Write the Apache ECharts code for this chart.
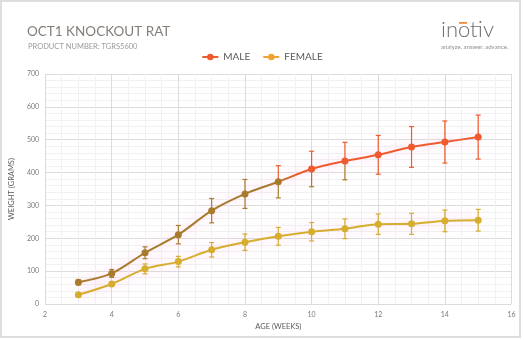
<!DOCTYPE html>
<html>
<head>
<meta charset="utf-8">
<script src="https://cdn.jsdelivr.net/npm/echarts@6/dist/echarts.min.js"></script>
<style>
  html, body { margin: 0; padding: 0; background: #fff; }
  #chart { width: 524px; height: 340px; }
</style>
</head>
<body>
<div id="chart"></div>
<script>
// Body weight by age, mean ± SD (grams)
const weeks      = [3, 4, 5, 6, 7, 8, 9, 10, 11, 12, 13, 14, 15];
const maleMean   = [66, 93, 156, 211, 284, 335, 372, 411, 435, 454, 478, 493, 508];
const maleSD     = [8, 12, 18, 28, 37, 44, 49, 54, 57, 59, 62, 64, 67];
const femaleMean = [28, 61, 107, 129, 165, 188, 206, 220, 229, 243, 244, 253, 255];
const femaleSD   = [5, 6, 15, 16, 22, 25, 27, 28, 30, 31, 32, 33, 33];
const xTicks     = [2, 4, 6, 8, 10, 12, 14, 16];
const yTicks     = [0, 100, 200, 300, 400, 500, 600, 700];

const RED = '#ef5a2e';
const BROWN = '#a77b2b';
const GOLD = '#d6ad2c';
const HAZE = 'rgba(255,130,225,0.55)';
const SHIFT_WEEK = 9;   // male trace switches from brown to red after this week

const chart = echarts.init(document.getElementById('chart'), null, { renderer: 'canvas' });

function errorSeries(name, means, sds, colorFor) {
  return {
    type: 'custom',
    name: name,
    coordinateSystem: 'cartesian2d',
    z: 3,
    silent: true,
    data: weeks.map((w, i) => [w, means[i] - sds[i], means[i] + sds[i], means[i]]),
    renderItem: function (params, api) {
      const w = api.value(0);
      const lo = api.coord([w, api.value(1)]);
      const hi = api.coord([w, api.value(2)]);
      const mid = api.coord([w, api.value(3)]);
      const c = colorFor(w);
      const cap = 2.5;
      const s = (col) => ({ stroke: col, lineWidth: 1.2 });
      return {
        type: 'group',
        children: [
          { type: 'line', shape: { x1: hi[0], y1: hi[1], x2: mid[0], y2: mid[1] }, style: s(c.up) },
          { type: 'line', shape: { x1: mid[0], y1: mid[1], x2: lo[0], y2: lo[1] }, style: s(c.down) },
          { type: 'line', shape: { x1: hi[0] - cap, y1: hi[1], x2: hi[0] + cap, y2: hi[1] }, style: s(c.up) },
          { type: 'line', shape: { x1: lo[0] - cap, y1: lo[1], x2: lo[0] + cap, y2: lo[1] }, style: s(c.down) }
        ]
      };
    }
  };
}

const option = {
  animation: false,
  backgroundColor: '#fff',
  title: [
    { text: 'OCT1 KNOCKOUT RAT', left: 22, top: 20,
      textStyle: { fontFamily: 'Lato', fontSize: 13.5, fontWeight: 'normal', color: '#857d78' } },
    { text: 'PRODUCT NUMBER: TGRS5600', left: 23, top: 38,
      textStyle: { fontFamily: 'Lato', fontSize: 7.5, fontWeight: 'normal', color: '#9a9a9a' } }
  ],
  legend: {
    top: 47, left: 'center', itemWidth: 16, itemHeight: 8, itemGap: 12,
    textStyle: { fontFamily: 'Lato', fontSize: 10, color: '#595959' },
    data: [
      { name: 'MALE', itemStyle: { color: RED }, lineStyle: { color: RED } },
      { name: 'FEMALE', itemStyle: { color: '#f2a232' }, lineStyle: { color: '#f2a232' } }
    ]
  },
  grid: { left: 39, right: 12.5, top: 74, bottom: 36 },
  xAxis: {
    type: 'value', min: xTicks[0], max: xTicks[xTicks.length - 1], interval: 2,
    name: 'AGE (WEEKS)', nameLocation: 'middle', nameGap: 18,
    nameTextStyle: { fontFamily: 'Lato', fontSize: 7.5, color: '#595959' },
    axisLine: { show: false }, axisTick: { show: false },
    axisLabel: { fontFamily: 'Lato', fontSize: 7, color: '#7a7a7a', margin: 7 },
    splitLine: { show: true, lineStyle: { color: '#dcdcdc', width: 1 } },
    minorTick: { show: false, splitNumber: 4 },
    minorSplitLine: { show: true, lineStyle: { color: '#f1f1f1', width: 1 } }
  },
  yAxis: {
    type: 'value', min: yTicks[0], max: yTicks[yTicks.length - 1], interval: 100,
    name: 'WEIGHT (GRAMS)', nameLocation: 'middle', nameGap: 20, nameRotate: 90,
    nameTextStyle: { fontFamily: 'Lato', fontSize: 7.5, color: '#595959' },
    axisLine: { show: false }, axisTick: { show: false },
    axisLabel: { fontFamily: 'Lato', fontSize: 7, color: '#7a7a7a', margin: 6 },
    splitLine: { show: true, lineStyle: { color: '#dcdcdc', width: 1 } },
    minorTick: { show: false, splitNumber: 5 },
    minorSplitLine: { show: true, lineStyle: { color: '#f1f1f1', width: 1 } }
  },
  series: [
    { name: 'MALE', type: 'line', smooth: 0.3, z: 4,
      data: weeks.map((w, i) => [w, maleMean[i]]),
      symbol: 'circle', symbolSize: 7,
      itemStyle: { color: (p) => (p.data[0] <= SHIFT_WEEK ? BROWN : RED) },
      lineStyle: { color: RED, width: 2, shadowColor: HAZE, shadowBlur: 14 } },
    { name: 'FEMALE', type: 'line', smooth: 0.3, z: 4,
      data: weeks.map((w, i) => [w, femaleMean[i]]),
      symbol: 'circle', symbolSize: 7,
      itemStyle: { color: GOLD },
      lineStyle: { color: GOLD, width: 2, shadowColor: HAZE, shadowBlur: 14 } },
    errorSeries('MALE_ERR', maleMean, maleSD, (w) =>
      w <= 8 ? { up: BROWN, down: BROWN } : (w <= 11 ? { up: RED, down: BROWN } : { up: RED, down: RED })),
    errorSeries('FEMALE_ERR', femaleMean, femaleSD, () => ({ up: GOLD, down: GOLD }))
  ],
  graphic: [
    { type: 'rect', shape: { x: 1, y: 1, width: 519, height: 336 }, style: { fill: null, stroke: '#dedede', lineWidth: 2 }, silent: true },
    { type: 'text', left: 441, top: 19, style: { text: 'inotiv', fontFamily: 'Lato', fontSize: 22, fontWeight: 300, fill: '#6e6e6e' } },
    { type: 'rect', shape: { x: 459, y: 22, width: 8, height: 1.8 }, style: { fill: '#f08a3c' } },
    { type: 'text', left: 441, top: 44, style: { text: 'analyze. answer. advance.', fontFamily: 'Lato', fontSize: 6, fill: '#8a8f96' } }
  ]
};

chart.setOption(option);

// Brown-to-red switch along the male trace, placed through the x axis scale
const x0 = chart.convertToPixel({ xAxisIndex: 0 }, weeks[0]);
const x1 = chart.convertToPixel({ xAxisIndex: 0 }, weeks[weeks.length - 1]);
const xs = chart.convertToPixel({ xAxisIndex: 0 }, SHIFT_WEEK);
const t = (xs - x0) / (x1 - x0);
chart.setOption({
  series: [{
    name: 'MALE',
    lineStyle: {
      color: new echarts.graphic.LinearGradient(x0, 0, x1, 0, [
        { offset: 0, color: BROWN }, { offset: t, color: BROWN },
        { offset: t + 0.04, color: RED }, { offset: 1, color: RED }
      ], true)
    }
  }]
});
</script>
</body>
</html>
